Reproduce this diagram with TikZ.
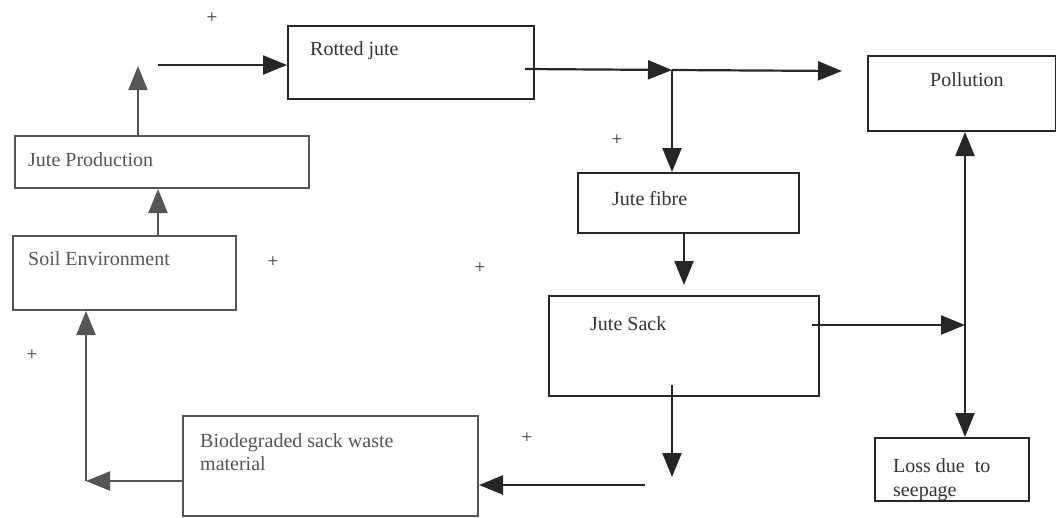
\documentclass[tikz,border=0pt]{standalone}
\usepackage{fontspec}
\setmainfont{Liberation Serif}
\usetikzlibrary{arrows.meta}
\definecolor{ink}{HTML}{262626}
\definecolor{fade}{HTML}{555555}
\definecolor{txt}{HTML}{333333}
\tikzset{
  box/.style={draw=ink, line width=2pt, inner sep=0pt, anchor=north west},
  fbox/.style={box, draw=fade},
  lbl/.style={anchor=base west, inner sep=0pt, text=txt, font=\fontsize{20}{22}\selectfont},
  flbl/.style={lbl, text=fade},
  pl/.style={inner sep=0pt, text=txt, font=\fontsize{19}{20}\selectfont},
  arr/.style={draw=ink, line width=2.2pt, -{Triangle[length=24pt,width=19pt]}},
  farr/.style={arr, draw=fade, fill=fade},
  darr/.style={draw=ink, line width=2.2pt, {Triangle[length=24pt,width=19pt]}-{Triangle[length=24pt,width=19pt]}}
}
\begin{document}
\begin{tikzpicture}[x=1pt,y=-1pt]
\useasboundingbox[fill=white] (0,0) rectangle (1056,517);

% boxes
\node[box, minimum width=246pt, minimum height=73pt] (rot) at (287,25) {};
\node[box, minimum width=188pt, minimum height=75pt] (pol) at (867,55) {};
\node[fbox, minimum width=294pt, minimum height=52pt] (jp) at (14,135) {};
\node[box, minimum width=221pt, minimum height=60pt] (fib) at (577,172) {};
\node[fbox, minimum width=223pt, minimum height=74pt] (soil) at (12,235) {};
\node[box, minimum width=270pt, minimum height=100pt] (sack) at (548,295) {};
\node[fbox, minimum width=295pt, minimum height=100pt] (bio) at (182,415) {};
\node[box, minimum width=154pt, minimum height=63pt] (loss) at (874,437) {};

% labels
\node[lbl] (trot) at (310,55) {Rotted jute};
\node[lbl] (tpol) at (930,86) {Pollution};
\node[flbl] (tjp) at (28,166) {Jute Production};
\node[lbl] (tfib) at (612,205) {Jute fibre};
\node[flbl] (tsoil) at (28,265) {Soil Environment};
\node[lbl] (tsack) at (590,330) {Jute Sack};
\node[flbl] (tbio1) at (200,447) {Biodegraded sack waste};
\node[flbl] (tbio2) at (200,470) {material};
\node[lbl] (tloss1) at (893,472) {Loss due\ \ to};
\node[lbl] (tloss2) at (893,496) {seepage};

% plus marks
\node[pl] (p1) at (212,18) {+};
\node[pl] (p2) at (617,140) {+};
\node[pl] (p3) at (273,262) {+};
\node[pl] (p4) at (480,268) {+};
\node[pl] (p5) at (32,355) {+};
\node[pl] (p6) at (527,438) {+};

% coordinates
\coordinate (a1) at (138,66);
\coordinate (a2) at (158,65);
\coordinate (a3) at (158,0);
\coordinate (r0) at (525,69);
\coordinate (j1) at (672,70);
\coordinate (p0) at (842,71);
\coordinate (f1) at (684,285);
\coordinate (s0) at (812,325);
\coordinate (v1) at (965,325);
\coordinate (s1) at (672,385);
\coordinate (s2) at (672,477);
\coordinate (b0) at (645,485);
\coordinate (l1) at (86,481);

% connectors
\draw[farr] (jp.north -| a1) -- (a1);
\draw[arr] (a2) -- (rot.west |- a2);
\draw[farr] (soil.north -| a3) -- (jp.south -| a3);
\draw[arr] (r0) -- (j1);
\draw[arr] (j1) -- (p0);
\draw[arr] (j1) -- (j1 |- fib.north);
\draw[arr] (fib.south -| f1) -- (f1);
\draw[arr] (s0) -- (v1);
\draw[darr] (pol.south -| v1) -- (loss.north -| v1);
\draw[arr] (s1) -- (s2);
\draw[arr] (b0) -- (bio.east |- b0);
\draw[farr] (bio.west |- l1) -- (l1);
\draw[farr] (l1) -- (l1 |- soil.south);
\end{tikzpicture}
\end{document}
